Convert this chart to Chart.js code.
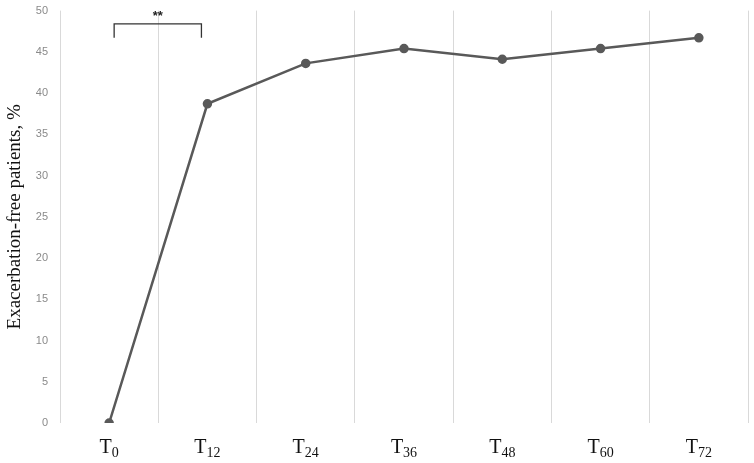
<!DOCTYPE html>
<html>
<head>
<meta charset="utf-8">
<script src="https://cdn.jsdelivr.net/npm/chart.js@4/dist/chart.umd.min.js"></script>
<style>
  html, body { margin: 0; padding: 0; background: #fff; overflow: hidden; }
  #wrap { width: 754px; height: 471px; margin-top: -8px; }
</style>
</head>
<body>
<div id="wrap"><canvas id="lineChart"></canvas></div>
<script>
// time points (label base + subscript)
var timeLabels = ["T0", "T12", "T24", "T36", "T48", "T60", "T72"];
var timeSubs = ["0", "12", "24", "36", "48", "60", "72"];
// exacerbation-free patients, %
var freeValues = [0, 38.7, 43.6, 45.4, 44.1, 45.4, 46.7];
var yTicks = [0, 5, 10, 15, 20, 25, 30, 35, 40, 45, 50];

var lineColor = "#595959";

// x labels with subscripts + significance bracket
var extras = {
  id: "extras",
  afterDraw: function(chart) {
    var ctx = chart.ctx;
    var xs = chart.scales.x, ys = chart.scales.y;
    ctx.save();
    ctx.fillStyle = "#111";
    ctx.textBaseline = "alphabetic";
    timeSubs.forEach(function(sub, i) {
      var x = xs.getPixelForValue(i);
      ctx.font = "20px 'Liberation Serif'";
      var wT = ctx.measureText("T").width;
      ctx.font = "14px 'Liberation Serif'";
      var wS = ctx.measureText(sub).width;
      var start = x - (wT + wS) / 2;
      var base = chart.chartArea.bottom + 30;
      ctx.font = "20px 'Liberation Serif'";
      ctx.textAlign = "left";
      ctx.fillText("T", start, base);
      ctx.font = "14px 'Liberation Serif'";
      ctx.fillText(sub, start + wT, base + 4);
    });

    // bracket between T0 and T12
    var x0 = xs.getPixelForValue(0) + 5;
    var x1 = xs.getPixelForValue(1) - 6;
    var yTop = ys.getPixelForValue(48.4);
    var yLeg = ys.getPixelForValue(46.7);
    ctx.strokeStyle = "#333";
    ctx.lineWidth = 1.3;
    ctx.beginPath();
    ctx.moveTo(x0, yLeg);
    ctx.lineTo(x0, yTop);
    ctx.lineTo(x1, yTop);
    ctx.lineTo(x1, yLeg);
    ctx.stroke();
    ctx.fillStyle = "#222";
    ctx.font = "bold 13px 'Liberation Sans'";
    ctx.textAlign = "center";
    ctx.fillText("**", (x0 + x1) / 2, ys.getPixelForValue(48.6) - 2);
    ctx.restore();
  }
};

new Chart("lineChart", {
  type: "line",
  data: {
    labels: timeLabels,
    datasets: [{
      data: freeValues,
      borderColor: lineColor,
      backgroundColor: lineColor,
      borderWidth: 2.5,
      pointRadius: 3.5,
      pointHoverRadius: 3.5,
      tension: 0
    }]
  },
  plugins: [extras],
  options: {
    responsive: true,
    maintainAspectRatio: false,
    animation: false,
    layout: { padding: { top: 4, right: 6, bottom: 40, left: 0 } },
    plugins: {
      legend: { display: false },
      tooltip: { enabled: false }
    },
    scales: {
      x: {
        offset: true,
        grid: { display: true, offset: true, color: "#d9d9d9", lineWidth: 1, drawTicks: false },
        border: { display: false },
        ticks: { display: false }
      },
      y: {
        min: 0,
        max: 50,
        afterBuildTicks: function(axis) {
          axis.ticks = yTicks.map(function(v) { return { value: v }; });
        },
        afterFit: function(axis) { axis.width = 60; },
        grid: { display: false, drawTicks: false },
        border: { display: false },
        ticks: {
          color: "#8a8a8a",
          padding: 12,
          font: { family: "'Liberation Sans'", size: 11 }
        },
        title: {
          display: true,
          text: "Exacerbation-free patients, %",
          color: "#111",
          padding: { top: 4, bottom: 0 },
          font: { family: "'Liberation Serif'", size: 19 }
        }
      }
    }
  }
});
</script>
</body>
</html>
